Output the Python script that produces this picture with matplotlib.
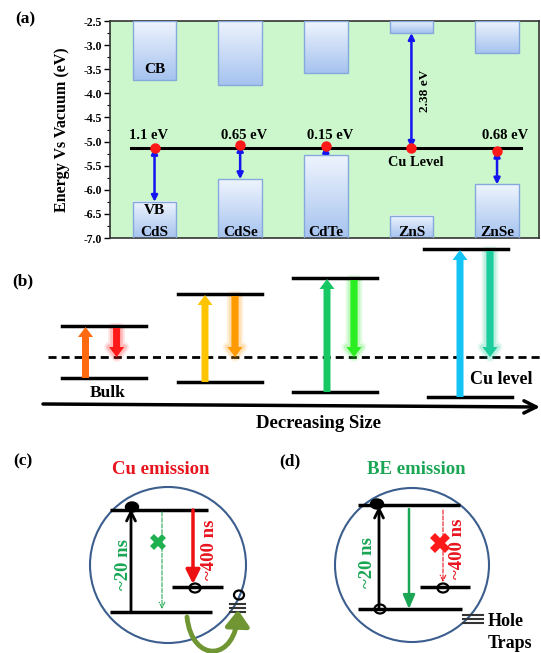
import numpy as np
import matplotlib
matplotlib.use("Agg")
import matplotlib.pyplot as plt
from matplotlib.patches import Rectangle, Circle, Ellipse, FancyArrow, FancyArrowPatch
from matplotlib.path import Path
from matplotlib.colors import LinearSegmentedColormap
from matplotlib.ticker import MultipleLocator

plt.rcParams['font.family'] = ['Liberation Serif', 'DejaVu Serif']
plt.rcParams['font.weight'] = 'bold'
plt.rcParams['axes.labelweight'] = 'bold'

# ---- panel (a) data: band edges vs vacuum (eV) ----
materials = ['CdS', 'CdSe', 'CdTe', 'ZnS', 'ZnSe']
cb_edge = [-3.72, -3.83, -3.57, -2.75, -3.17]
vb_edge = [-6.25, -5.78, -5.28, -6.54, -5.89]
cu_level = -5.14
cu_dots = [-5.13, -5.07, -5.09, -5.13, -5.19]
gap_text = ['1.1 eV', '0.65 eV', '0.15 eV', '', '0.68 eV']
zns_gap_text = '2.38 eV'
y_ticks = [-2.5, -3.0, -3.5, -4.0, -4.5, -5.0, -5.5, -6.0, -6.5, -7.0]

# ---- panel (b) data: levels in figure pixels (top, bottom) ----
b_top = [326, 294, 278, 249]
b_bottom = [378, 382, 392, 397]
b_up_colors = ['#ff6a10', '#ffc400', '#16c864', '#14c4f4']
b_down_colors = ['#ff1a1a', '#ff9a00', '#2aee22', '#1ccc9c']
b_dashed = 357

W, H = 541, 653
fig = plt.figure(figsize=(W / 100, H / 100), dpi=100)

# overlay in pixel coordinates for the schematic panels
ov = fig.add_axes([0, 0, 1, 1])
ov.set_xlim(0, W)
ov.set_ylim(H, 0)
ov.axis('off')

# ---------------- panel (a) ----------------
ax_l, ax_r, ax_t, ax_b = 110, 539, 21, 238
ax = fig.add_axes([ax_l / W, 1 - ax_b / H, (ax_r - ax_l) / W, (ax_b - ax_t) / H])
ax.set_facecolor('#ccf7cc')
ymin, ymax = -7.0, -2.5
cmap = LinearSegmentedColormap.from_list('bar', ['#eef4fd', '#a6c3ef'])
grad = np.linspace(0, 1, 64).reshape(-1, 1)
bw = 0.51
for i, m in enumerate(materials):
    xc = i + 0.5
    for y0, y1 in [(cb_edge[i], ymax), (ymin, vb_edge[i])]:
        ax.imshow(grad, extent=[xc - bw / 2, xc + bw / 2, y0, y1], origin='upper',
                  cmap=cmap, aspect='auto', zorder=2)
        ax.add_patch(Rectangle((xc - bw / 2, y0), bw, y1 - y0, fill=False,
                               edgecolor='#86a9dc', lw=1.0, zorder=3))
    ax.text(xc, -6.88, m, ha='center', va='center', fontsize=11, zorder=5)

ax.plot([0.22, 4.78], [cu_level, cu_level], color='black', lw=2.2, zorder=4)
for i in range(len(materials)):
    xc = i + 0.5
    if materials[i] == 'ZnS':
        tgt = cb_edge[i]
    else:
        tgt = vb_edge[i]
    ax.annotate('', xy=(xc, tgt), xytext=(xc, cu_dots[i]),
                arrowprops=dict(arrowstyle='<|-|>', color='#1414f0', lw=1.8,
                                mutation_scale=9, shrinkA=0, shrinkB=0), zorder=5)
    ax.plot(xc, cu_dots[i], 'o', color='#ff1a1a', ms=6.5, zorder=6)
    if gap_text[i]:
        off = [-0.07, 0.05, 0.05, 0, 0.1][i]
        ax.text(xc + off, -4.88, gap_text[i], ha='center', va='center', fontsize=10.5)

ax.text(3.55, -5.44, 'Cu Level', ha='center', va='center', fontsize=10.3)
ax.text(3.66, -3.95, zns_gap_text, ha='center', va='center', rotation=90, fontsize=9.5)
ax.text(0.5, -3.5, 'CB', ha='center', va='center', fontsize=11, zorder=5)
ax.text(0.5, -6.44, 'VB', ha='center', va='center', fontsize=11, zorder=5)

ax.set_xlim(-0.02, 4.99)
ax.set_ylim(ymin, ymax)
ax.set_xticks([])
ax.set_yticks(y_ticks)
ax.set_yticklabels([f'{v:.1f}' for v in y_ticks], fontsize=8.5)
ax.yaxis.set_minor_locator(MultipleLocator(0.25))
ax.tick_params(axis='y', which='major', length=4, width=1, pad=2)
ax.tick_params(axis='y', which='minor', length=2, width=0.8)
ax.set_ylabel('Energy Vs Vacuum (eV)', fontsize=11.5)
ax.yaxis.set_label_coords(-(ax_l - 70) / (ax_r - ax_l), 0.5)
for s in ax.spines.values():
    s.set_color('#333333')
    s.set_linewidth(1.2)

# ---------------- panel labels ----------------
for lab, (px, py) in zip(['(a)', '(b)', '(c)', '(d)'],
                         [(25, 19), (23, 281), (23, 461), (290, 461)]):
    ov.text(px, py, lab, ha='center', va='center', fontsize=12.5)

# ---------------- panel (b) ----------------
b_x0 = [62, 178, 293, 424]
b_x1 = [146, 262, 377, 508]
b_bx0 = [62, 178, 293, 428]
b_bx1 = [146, 262, 377, 512]
b_up_x = [85.5, 205, 327, 460]
b_dn_x = [116.6, 235, 354, 490]

ov.plot([48, 541], [b_dashed, b_dashed], color='black', lw=2, ls=(0, (2.9, 1.8)), zorder=1)
for k in range(4):
    ov.plot([b_x0[k], b_x1[k]], [b_top[k], b_top[k]], color='black', lw=2.5, zorder=3)
    ov.plot([b_bx0[k], b_bx1[k]], [b_bottom[k], b_bottom[k]], color='black', lw=2.5, zorder=3)
    # absorption (up)
    ov.add_patch(FancyArrow(b_up_x[k], b_bottom[k], 0, b_top[k] - b_bottom[k] + 1,
                            width=7, head_width=15, head_length=10,
                            length_includes_head=True, color=b_up_colors[k], lw=0, zorder=4))
    # emission (down) with a soft halo
    y0 = b_top[k] + 2
    L = b_dashed - y0
    for glw, a in [(7, 0.12), (4, 0.2)]:
        ov.add_patch(FancyArrow(b_dn_x[k], y0, 0, L, width=7, head_width=15,
                                head_length=10, length_includes_head=True,
                                facecolor=b_down_colors[k], edgecolor=b_down_colors[k],
                                lw=glw, alpha=a, joinstyle='round', zorder=2))
    ov.add_patch(FancyArrow(b_dn_x[k], y0, 0, L, width=7, head_width=15, head_length=10,
                            length_includes_head=True, color=b_down_colors[k], lw=0, zorder=4))

ov.text(108, 393, 'Bulk', ha='center', va='center', fontsize=12.5)
ov.text(501, 379, 'Cu level', ha='center', va='center', fontsize=13)
ov.annotate('', xy=(540, 407), xytext=(43, 404),
            arrowprops=dict(arrowstyle='->', lw=2.5, color='black', mutation_scale=22,
                            shrinkA=0, shrinkB=0))
ov.text(319, 423, 'Decreasing Size', ha='center', va='center', fontsize=13.5)

# ---------------- panels (c) and (d) ----------------
ov.text(161, 470, 'Cu emission', ha='center', va='center', fontsize=13.5, color='#e8141e')
ov.text(416, 470, 'BE emission', ha='center', va='center', fontsize=13.5, color='#1aa655')

ring = '#3b5e8e'
ov.add_patch(Circle((168, 565), 78, fill=False, edgecolor=ring, lw=1.5, zorder=2))
ov.add_patch(Circle((412, 565), 77, fill=False, edgecolor=ring, lw=1.5, zorder=2))


def hline(x0, x1, y):
    ov.plot([x0, x1], [y, y], color='black', lw=2.5, zorder=3, solid_capstyle='butt')


def arrow(x, y0, y1, color, lw, style, ls='-', ms=14):
    ov.annotate('', xy=(x, y1), xytext=(x, y0),
                arrowprops=dict(arrowstyle=style, color=color, lw=lw, ls=ls,
                                mutation_scale=ms, shrinkA=0, shrinkB=0), zorder=4)


def hole(x, y, w=11, h=9):
    ov.add_patch(Ellipse((x, y), w, h, fill=False, edgecolor='black', lw=1.6, zorder=6))


# (c)
hline(110, 208, 510)
hline(110, 212, 612)
hline(172, 223, 587)
ov.add_patch(Ellipse((132, 507), 13, 10, color='black', zorder=6))
arrow(131, 612, 509, 'black', 2, '->', ms=16)
arrow(162, 512, 609, '#2aa855', 0.8, '->', ls='--', ms=10)
ov.plot(158, 542, 'X', color='#1fb050', ms=12, mew=0, zorder=5)
arrow(193, 510, 584, '#ee1111', 2.5, '-|>,head_width=0.35,head_length=0.7', ms=12)
hole(195, 588)
ov.text(123, 565, '~20 ns', rotation=90, ha='center', va='center', fontsize=13.5, color='#1aa655')
ov.text(210, 550, '~400 ns', rotation=90, ha='center', va='center', fontsize=13.5, color='#e8141e')
for yy in [604, 608, 612]:
    ov.plot([230, 245], [yy, yy], color='#333333', lw=1.5, zorder=3)
hole(239, 595, 10, 9)
curve = Path([(187, 617), (192, 664), (236, 662), (238, 610)],
             [Path.MOVETO, Path.CURVE4, Path.CURVE4, Path.CURVE4])
ov.add_patch(FancyArrowPatch(path=curve, arrowstyle='-|>,head_width=0.45,head_length=0.6',
                             mutation_scale=16, lw=3.5, color='#6f9632', zorder=5))

# (d)
hline(358, 460, 505)
hline(358, 462, 609)
hline(420, 470, 587)
ov.add_patch(Ellipse((377, 504), 13, 10, color='black', zorder=6))
arrow(379, 609, 506, 'black', 2, '->', ms=16)
hole(380, 609)
arrow(409, 509, 609, '#1aa655', 1.8, '-|>,head_width=0.3,head_length=0.7', ms=12)
arrow(443, 510, 582, '#e8141e', 0.8, '->', ls='--', ms=10)
ov.plot(440, 543, 'X', color='#ff1a1a', ms=14, mew=0, zorder=5)
hole(443, 588)
ov.text(368, 562, '~20 ns', rotation=90, ha='center', va='center', fontsize=13.5, color='#1aa655')
ov.text(458, 549, '~400 ns', rotation=90, ha='center', va='center', fontsize=13.5, color='#e8141e')
for yy in [615, 619, 623]:
    ov.plot([463, 483], [yy, yy], color='#333333', lw=1.5, zorder=3)
ov.text(506, 622, 'Hole', ha='center', va='center', fontsize=13)
ov.text(510, 644, 'Traps', ha='center', va='center', fontsize=13)

fig.savefig('out.png', dpi=100)
